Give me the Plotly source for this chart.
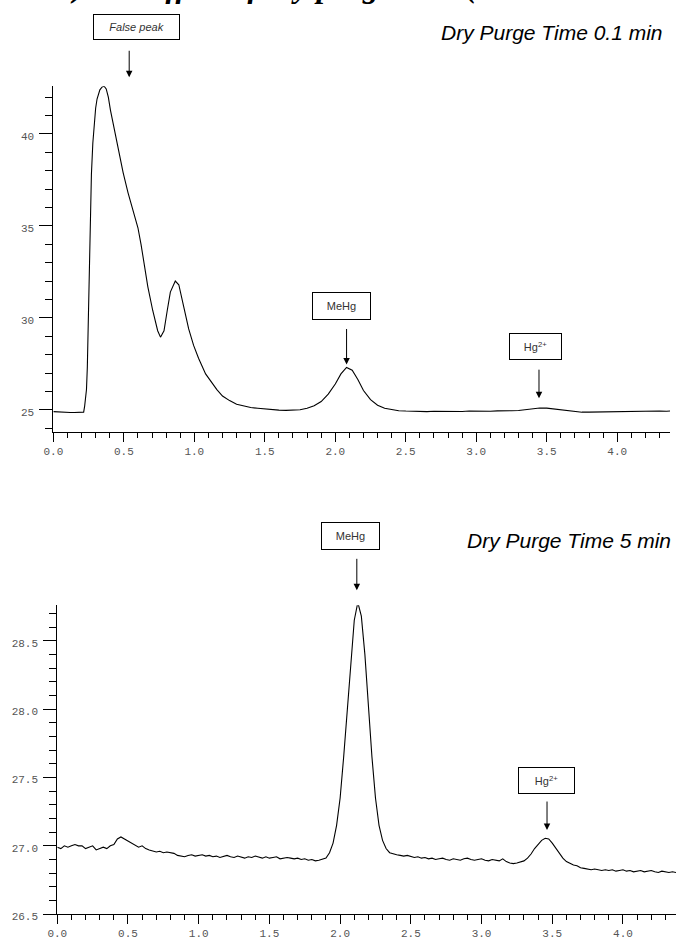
import plotly.graph_objects as go

# ---------------- data ----------------
top_time = [
    0.00, 0.03, 0.06, 0.09, 0.12, 0.15, 0.18, 0.205, 0.215, 0.222,
    0.228, 0.235, 0.241, 0.248, 0.255, 0.262, 0.27, 0.28, 0.29, 0.30,
    0.31, 0.32, 0.33, 0.345, 0.36, 0.375, 0.39, 0.405, 0.42, 0.435,
    0.46, 0.495, 0.53, 0.565, 0.60, 0.622, 0.646, 0.67, 0.705, 0.74,
    0.76, 0.785, 0.808, 0.83, 0.865, 0.89, 0.925, 0.96, 0.995, 1.03,
    1.08, 1.12, 1.16, 1.20, 1.25, 1.30, 1.35, 1.40, 1.45, 1.50,
    1.55, 1.60, 1.65, 1.70, 1.75, 1.80, 1.85, 1.90, 1.95, 2.00,
    2.04, 2.08, 2.12, 2.16, 2.20, 2.25, 2.30, 2.35, 2.40, 2.45,
    2.50, 2.55, 2.60, 2.65, 2.70, 2.75, 2.80, 2.85, 2.90, 2.95,
    3.00, 3.05, 3.10, 3.15, 3.20, 3.25, 3.30, 3.35, 3.40, 3.45,
    3.50, 3.55, 3.60, 3.65, 3.70, 3.75, 3.80, 3.85, 3.90, 3.95,
    4.00, 4.05, 4.10, 4.15, 4.20, 4.25, 4.30, 4.35, 4.375,
]
top_signal = [
    24.90, 24.88, 24.87, 24.86, 24.85, 24.85, 24.85, 24.83, 24.87, 25.20,
    25.50, 26.10, 27.30, 30.00, 33.50, 36.00, 37.80, 39.50, 40.60, 41.40,
    41.90, 42.20, 42.40, 42.55, 42.60, 42.45, 42.00, 41.30, 40.70, 40.20,
    39.20, 37.90, 36.80, 35.90, 34.90, 34.00, 32.90, 31.70, 30.40, 29.30,
    28.95, 29.30, 30.40, 31.40, 32.00, 31.80, 30.60, 29.40, 28.50, 27.80,
    26.95, 26.50, 26.10, 25.75, 25.50, 25.30, 25.20, 25.12, 25.08, 25.04,
    25.00, 24.98, 24.97, 24.98, 25.00, 25.08, 25.22, 25.45, 25.85, 26.40,
    26.95, 27.30, 27.15, 26.65, 26.05, 25.55, 25.25, 25.08, 25.00, 24.95,
    24.93, 24.91, 24.92, 24.90, 24.92, 24.91, 24.93, 24.92, 24.91, 24.93,
    24.92, 24.93, 24.92, 24.94, 24.93, 24.95, 24.96, 25.00, 25.06, 25.10,
    25.09, 25.04, 24.98, 24.94, 24.90, 24.87, 24.87, 24.88, 24.87, 24.90,
    24.91, 24.90, 24.91, 24.92, 24.91, 24.92, 24.93, 24.92, 24.93,
]

bottom_time = [
    0.000, 0.025, 0.050, 0.075, 0.100, 0.125, 0.150, 0.175, 0.200, 0.225,
    0.250, 0.275, 0.300, 0.325, 0.350, 0.375, 0.400, 0.425, 0.450, 0.475,
    0.500, 0.525, 0.550, 0.575, 0.600, 0.625, 0.650, 0.675, 0.700, 0.725,
    0.750, 0.775, 0.800, 0.825, 0.850, 0.875, 0.900, 0.925, 0.950, 0.975,
    1.000, 1.025, 1.050, 1.075, 1.100, 1.125, 1.150, 1.175, 1.200, 1.225,
    1.250, 1.275, 1.300, 1.325, 1.350, 1.375, 1.400, 1.425, 1.450, 1.475,
    1.500, 1.525, 1.550, 1.575, 1.600, 1.625, 1.650, 1.675, 1.700, 1.725,
    1.750, 1.775, 1.800, 1.825, 1.850, 1.875, 1.900, 1.925, 1.950, 1.975,
    2.000, 2.025, 2.050, 2.075, 2.100, 2.125, 2.150, 2.175, 2.200, 2.225,
    2.250, 2.275, 2.300, 2.325, 2.350, 2.375, 2.400, 2.425, 2.450, 2.475,
    2.500, 2.525, 2.550, 2.575, 2.600, 2.625, 2.650, 2.675, 2.700, 2.725,
    2.750, 2.775, 2.800, 2.825, 2.850, 2.875, 2.900, 2.925, 2.950, 2.975,
    3.000, 3.025, 3.050, 3.075, 3.100, 3.125, 3.150, 3.175, 3.200, 3.225,
    3.250, 3.275, 3.300, 3.325, 3.350, 3.375, 3.400, 3.425, 3.450, 3.475,
    3.500, 3.525, 3.550, 3.575, 3.600, 3.625, 3.650, 3.675, 3.700, 3.725,
    3.750, 3.775, 3.800, 3.825, 3.850, 3.875, 3.900, 3.925, 3.950, 3.975,
    4.000, 4.025, 4.050, 4.075, 4.100, 4.125, 4.150, 4.175, 4.200, 4.225,
    4.250, 4.275, 4.300, 4.325, 4.350, 4.375,
]
bottom_signal = [
    26.990, 26.980, 27.000, 26.990, 27.000, 27.010, 27.000, 27.000, 26.980, 26.990,
    27.000, 26.970, 26.980, 26.990, 26.980, 27.000, 27.010, 27.050, 27.065, 27.050,
    27.030, 27.020, 27.000, 26.990, 27.000, 26.980, 26.970, 26.965, 26.955, 26.960,
    26.950, 26.955, 26.950, 26.945, 26.930, 26.925, 26.920, 26.930, 26.935, 26.925,
    26.930, 26.935, 26.925, 26.930, 26.920, 26.925, 26.915, 26.920, 26.930, 26.920,
    26.915, 26.925, 26.920, 26.910, 26.920, 26.915, 26.925, 26.915, 26.910, 26.920,
    26.910, 26.915, 26.920, 26.905, 26.910, 26.915, 26.910, 26.905, 26.910, 26.900,
    26.905, 26.895, 26.900, 26.890, 26.895, 26.900, 26.910, 26.950, 27.020, 27.150,
    27.350, 27.650, 28.000, 28.350, 28.650, 28.780, 28.680, 28.400, 28.020, 27.650,
    27.350, 27.150, 27.040, 26.980, 26.950, 26.940, 26.935, 26.930, 26.925, 26.930,
    26.920, 26.915, 26.920, 26.910, 26.915, 26.905, 26.910, 26.900, 26.905, 26.910,
    26.900, 26.895, 26.905, 26.900, 26.895, 26.905, 26.910, 26.900, 26.895, 26.900,
    26.905, 26.895, 26.890, 26.900, 26.895, 26.890, 26.905, 26.885, 26.875, 26.870,
    26.875, 26.880, 26.890, 26.910, 26.940, 26.980, 27.010, 27.040, 27.055, 27.050,
    27.020, 26.980, 26.940, 26.910, 26.885, 26.870, 26.860, 26.855, 26.840, 26.835,
    26.830, 26.825, 26.830, 26.825, 26.820, 26.825, 26.820, 26.825, 26.815, 26.820,
    26.825, 26.815, 26.820, 26.810, 26.815, 26.820, 26.810, 26.815, 26.820, 26.810,
    26.805, 26.815, 26.810, 26.805, 26.810, 26.805,
]

top_caption = "Dry Purge Time 0.1 min"
bottom_caption = "Dry Purge Time 5 min"
header_text = "b) The effect of dry purge time ("
peak_labels = ["False peak", "MeHg", "Hg<sup>2+</sup>"]

# ---------------- figure ----------------
W, H = 676, 945


def px(x):
    return x / W


def py(y):
    return 1 - y / H


fig = go.Figure()
line_style = dict(color="black", width=1.1)
fig.add_trace(go.Scatter(x=top_time, y=top_signal, mode="lines", line=line_style,
                         xaxis="x", yaxis="y", showlegend=False, hoverinfo="skip"))
fig.add_trace(go.Scatter(x=bottom_time, y=bottom_signal, mode="lines", line=line_style,
                         xaxis="x2", yaxis="y2", showlegend=False, hoverinfo="skip"))

tick_font = dict(family="Liberation Mono, DejaVu Sans Mono, monospace", size=11, color="#555555")

xcommon = dict(range=[0, 4.375], showline=True, linecolor="black", linewidth=1,
               ticks="outside", ticklen=9, tickwidth=1, tickcolor="black",
               tick0=0, dtick=0.5, tickformat=".1f", tickfont=tick_font,
               minor=dict(dtick=0.1, tick0=0, ticks="outside", ticklen=5,
                          tickwidth=1, tickcolor="black"),
               showgrid=False, zeroline=False, fixedrange=True)
ycommon = dict(showline=True, linecolor="black", linewidth=1,
               ticks="outside", ticklen=13, tickwidth=1, tickcolor="black",
               tickfont=tick_font, ticklabelshift=2, ticklabelstandoff=3,
               showgrid=False, zeroline=False, fixedrange=True)

fig.update_layout(
    width=W, height=H,
    margin=dict(l=0, r=0, t=0, b=0),
    paper_bgcolor="white", plot_bgcolor="white",
    xaxis=dict(domain=[px(44), px(670)], anchor="y", **xcommon),
    yaxis=dict(domain=[py(436), py(87)], anchor="x", range=[23.8, 42.6],
               tick0=0, dtick=5,
               minor=dict(dtick=1, tick0=0, ticks="outside", ticklen=7,
                          tickwidth=1, tickcolor="black"),
               **ycommon),
    xaxis2=dict(domain=[px(48), 1.0], anchor="y2", **xcommon),
    yaxis2=dict(domain=[py(923), py(611)], anchor="x2", range=[26.5, 28.76],
                tick0=0, dtick=0.5, tickformat=".1f",
                minor=dict(dtick=0.1, tick0=0, ticks="outside", ticklen=7,
                           tickwidth=1, tickcolor="black"),
                **ycommon),
)

annotations = []

# clipped bold header at the very top (only its descenders show, as in the reference)
annotations.append(dict(text="<b><i>" + header_text + "</i></b>", xref="paper", yref="paper",
                        x=px(46), y=py(6), xanchor="left", yanchor="bottom", showarrow=False,
                        font=dict(family="Liberation Serif, Times New Roman, serif", size=32,
                                  color="black")))

# captions
cap_font = dict(family="Liberation Sans, Arial, sans-serif", size=21, color="black")
annotations.append(dict(text="<i>" + top_caption + "</i>", xref="paper", yref="paper",
                        x=px(665), y=py(33), xanchor="right", yanchor="middle",
                        showarrow=False, font=cap_font))
annotations.append(dict(text="<i>" + bottom_caption + "</i>", xref="paper", yref="paper",
                        x=px(673), y=py(546), xanchor="right", yanchor="middle",
                        showarrow=False, font=cap_font))

# label boxes
box_font = dict(family="Liberation Sans, Arial, sans-serif", size=11, color="#333333")


def box(text, cx, cy, w, h, italic=False):
    t = "<i>" + text + "</i>" if italic else text
    return dict(text=t, xref="paper", yref="paper", x=px(cx), y=py(cy),
                xanchor="center", yanchor="middle", showarrow=False,
                width=w, height=h, bordercolor="black", borderwidth=1,
                borderpad=0, bgcolor="white", font=box_font, align="center")


annotations.append(box(peak_labels[0], 128, 27, 85, 24, italic=True))
annotations.append(box(peak_labels[1], 336, 309, 57, 26))
annotations.append(box(peak_labels[2], 533, 350, 51, 25))
annotations.append(box(peak_labels[1], 346, 541, 57, 26))
annotations.append(box(peak_labels[2], 545, 788, 55, 25))


def arrow(x, xref, tip_y, length):
    return dict(text="", x=x, y=py(tip_y), xref=xref, yref="paper", ax=0, ay=-length,
                showarrow=True, arrowhead=2, arrowsize=1.3, arrowwidth=1,
                arrowcolor="black", standoff=0)


annotations.append(arrow(0.538, "x", 78, 28))
annotations.append(arrow(2.08, "x", 368, 37))
annotations.append(arrow(3.445, "x", 402, 30))
annotations.append(arrow(2.118, "x2", 596, 33))
annotations.append(arrow(3.463, "x2", 838, 30))

fig.update_layout(annotations=annotations)

fig.write_html("out.html", config={"displayModeBar": False, "staticPlot": True})
